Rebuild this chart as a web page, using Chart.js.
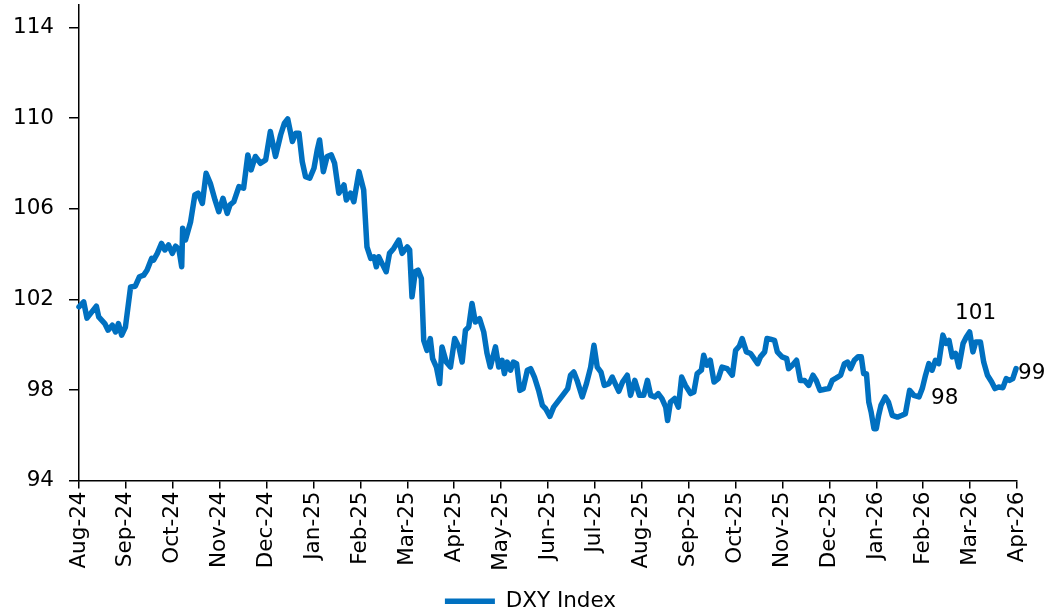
<!DOCTYPE html>
<html>
<head>
<meta charset="utf-8">
<script src="https://cdn.jsdelivr.net/npm/chart.js@4"></script>
<style>
  html, body { margin: 0; padding: 0; background: #fff; }
  canvas { display: block; }
</style>
</head>
<body>
<canvas id="dxyChart" width="1045" height="616"></canvas>
<script>
// DXY Index, Aug-24 to Apr-26

const monthLabels = ['Aug-24', 'Sep-24', 'Oct-24', 'Nov-24', 'Dec-24', 'Jan-25', 'Feb-25', 'Mar-25', 'Apr-25', 'May-25',
    'Jun-25', 'Jul-25', 'Aug-25', 'Sep-25', 'Oct-25', 'Nov-25', 'Dec-25', 'Jan-26', 'Feb-26', 'Mar-26', 'Apr-26'];

const yTicks = [94, 98, 102, 106, 110, 114];

// position in months since Aug-24
const dxyPos = [
    0.00, 0.10, 0.17, 0.37, 0.42, 0.55, 0.62, 0.71, 0.78, 0.84, 0.91, 0.99, 1.10, 1.20, 1.29, 1.38, 1.45, 1.55, 1.59, 1.67,
    1.76, 1.83, 1.91, 1.99, 2.06, 2.13, 2.19, 2.21, 2.27, 2.38, 2.47, 2.54, 2.63, 2.71, 2.80, 2.90,
    2.98, 3.07, 3.16, 3.22, 3.30, 3.41, 3.51, 3.60, 3.67, 3.76, 3.87, 3.98, 4.08, 4.19, 4.30, 4.38, 4.45, 4.55, 4.62, 4.69,
    4.76, 4.83, 4.92, 5.01, 5.08, 5.13, 5.21, 5.29, 5.38, 5.45, 5.54, 5.65, 5.70, 5.79,
    5.86, 5.97, 6.07, 6.14, 6.22, 6.29, 6.34, 6.39, 6.46, 6.55, 6.62, 6.71, 6.82, 6.89, 7.00, 7.05, 7.10, 7.17, 7.23, 7.30,
    7.35, 7.42, 7.49, 7.54, 7.62, 7.69, 7.74, 7.83, 7.92, 8.01, 8.10, 8.17, 8.24, 8.31, 8.38, 8.45, 8.54, 8.63,
    8.70, 8.77, 8.88, 8.95, 9.02, 9.07, 9.13, 9.20, 9.26, 9.33, 9.40, 9.47, 9.56, 9.63, 9.71, 9.80, 9.88, 9.95, 10.04, 10.12,
    10.23, 10.34, 10.42, 10.48, 10.55, 10.62, 10.73, 10.82, 10.91, 10.98, 11.05, 11.13, 11.20, 11.30, 11.37, 11.44, 11.51,
    11.59, 11.69, 11.76, 11.85, 11.95, 12.04, 12.12, 12.19, 12.28, 12.35, 12.43, 12.51, 12.55, 12.61, 12.70, 12.78, 12.85, 12.93,
    13.04, 13.11, 13.18, 13.27, 13.32, 13.39, 13.46, 13.54, 13.63, 13.71, 13.82, 13.93, 14.00, 14.08, 14.14, 14.23, 14.32,
    14.47, 14.53, 14.62, 14.67, 14.74, 14.83, 14.89, 14.99, 15.09, 15.13, 15.21, 15.30, 15.38, 15.47, 15.56, 15.65, 15.72, 15.80,
    15.90, 15.99, 16.06, 16.15, 16.24, 16.32, 16.39, 16.45, 16.53, 16.61, 16.68, 16.73, 16.79, 16.84, 16.89, 16.95, 17.00, 17.05,
    17.10, 17.19, 17.26,
    17.34, 17.45, 17.55, 17.62, 17.71, 17.80, 17.91, 17.98, 18.05, 18.12, 18.19, 18.26, 18.33, 18.42, 18.49, 18.55, 18.62, 18.69,
    18.76, 18.85, 18.92, 18.99, 19.06, 19.12, 19.22, 19.29, 19.37, 19.46, 19.53, 19.61, 19.70, 19.77, 19.84, 19.91, 19.98
];

const dxyValue = [
    101.67, 101.89, 101.17, 101.70, 101.23, 100.93, 100.64, 100.86, 100.56, 100.93, 100.42, 100.78, 102.55, 102.58, 103.00, 103.07, 103.29, 103.81, 103.73, 104.03,
    104.47, 104.18, 104.40, 104.03, 104.35, 104.21, 103.44, 105.14, 104.62, 105.43, 106.61, 106.69, 106.24, 107.57, 107.13, 106.39,
    105.87, 106.46, 105.80, 106.17, 106.31, 106.98, 106.91, 108.38, 107.72, 108.31, 108.01, 108.16, 109.41, 108.31, 109.27, 109.78, 109.97, 108.97, 109.34, 109.34,
    108.08, 107.42, 107.35, 107.79, 108.60, 109.04, 107.64, 108.31, 108.38, 108.01, 106.69, 107.05, 106.39, 106.69,
    106.31, 107.64, 106.83, 104.32, 103.81, 103.88, 103.44, 103.88, 103.59, 103.22, 104.03, 104.25, 104.62, 104.03, 104.32, 104.18, 102.11, 103.22, 103.29, 102.92,
    100.19, 99.75, 100.27, 99.38, 99.01, 98.28, 99.90, 99.23, 99.01, 100.27, 99.90, 99.23, 100.64, 100.78, 101.82, 101.00, 101.15, 100.56,
    99.61, 99.01, 99.90, 99.01, 99.31, 98.72, 99.23, 98.87, 99.23, 99.16, 97.98, 98.06, 98.87, 98.94, 98.57, 97.98, 97.32, 97.17, 96.83, 97.24,
    97.54, 97.84, 98.06, 98.65, 98.79, 98.42, 97.69, 98.28, 99.01, 99.97, 99.01, 98.79, 98.20, 98.28, 98.57, 98.25, 97.94,
    98.35, 98.65, 97.76, 98.42, 97.76, 97.76, 98.42, 97.76, 97.69, 97.84, 97.62, 97.24, 96.65, 97.46, 97.62, 97.24, 98.57, 98.20,
    97.84, 97.91, 98.72, 98.87, 99.53, 99.09, 99.31, 98.35, 98.50, 99.01, 98.94, 98.65, 99.75, 99.93, 100.27, 99.68, 99.61,
    99.16, 99.46, 99.68, 100.27, 100.24, 100.19, 99.68, 99.46, 99.38, 98.94, 99.09, 99.31, 98.42, 98.42, 98.20, 98.65, 98.42, 97.98,
    98.03, 98.06, 98.42, 98.53, 98.65, 99.16, 99.23, 98.94, 99.31, 99.46, 99.46, 98.72, 98.72, 97.46, 97.02, 96.29, 96.29, 96.88,
    97.32, 97.69, 97.46,
    96.88, 96.80, 96.88, 96.95, 97.98, 97.76, 97.69, 98.06, 98.65, 99.16, 98.87, 99.31, 99.16, 100.42, 100.05, 100.19, 99.46, 99.61,
    99.01, 100.05, 100.34, 100.56, 99.68, 100.12, 100.12, 99.23, 98.65, 98.35, 98.06, 98.13, 98.10, 98.50, 98.42, 98.50, 98.94
];

// points that carry a value label
const labelledPos = [17.91, 18.99, 19.98];

const LINE_BLUE = '#0070C0';
const FONT = "'DejaVu Sans', sans-serif";
const FONT_SIZE = 21.5;

Chart.defaults.font.family = FONT;
Chart.defaults.font.size = FONT_SIZE;
Chart.defaults.color = '#000';

// ─── Value labels next to chosen points ─────────────────────────────────────
const labelOffsets = [
    { dx: 12, dy: 1, align: 'left' },
    { dx: 6, dy: -19, align: 'center' },
    { dx: 2, dy: 5, align: 'left' }
];

const pointLabels = {
    id: 'pointLabels',
    afterDatasetsDraw(chart) {
        const meta = chart.getDatasetMeta(0);
        const ctx = chart.ctx;
        ctx.save();
        ctx.font = FONT_SIZE + 'px ' + FONT;
        ctx.fillStyle = '#000';
        ctx.textBaseline = 'middle';
        labelledPos.forEach((p, k) => {
            const i = dxyPos.indexOf(p);
            const pt = meta.data[i];
            if(!pt) return;
            ctx.textAlign = labelOffsets[k].align;
            ctx.fillText(String(Math.round(dxyValue[i])), pt.x + labelOffsets[k].dx, pt.y + labelOffsets[k].dy);
        });
        ctx.restore();
    }
};

// nudge the legend a little right of the canvas centre, as in the source
const legendShift = {
    id: 'legendShift',
    afterLayout(chart) {
        if(chart.legend) {
            chart.legend.left += 22;
            chart.legend.right += 22;
        }
    }
};

new Chart(document.getElementById('dxyChart').getContext('2d'), {
    type: 'line',
    data: {
        datasets: [{
            label: 'DXY Index',
            data: dxyPos.map((p, i) => ({ x: p, y: dxyValue[i] })),
            borderColor: LINE_BLUE,
            backgroundColor: LINE_BLUE,
            borderWidth: 5.5,
            borderCapStyle: 'round',
            borderJoinStyle: 'round',
            pointRadius: 0,
            tension: 0,
            clip: false
        }]
    },
    options: {
        responsive: false,
        animation: false,
        events: [],
        layout: { padding: { top: 5, right: 28, bottom: -6, left: 0 } },
        plugins: {
            legend: {
                display: true,
                position: 'bottom',
                labels: {
                    usePointStyle: true,
                    pointStyle: 'line',
                    pointStyleWidth: 50,
                    padding: 0,
                    color: '#000',
                    font: { size: FONT_SIZE }
                }
            },
            tooltip: { enabled: false }
        },
        scales: {
            x: {
                type: 'linear',
                min: 0,
                max: monthLabels.length - 1,
                afterBuildTicks: s => { s.ticks = monthLabels.map((_, i) => ({ value: i })); },
                afterFit: s => { s.height = 110; s.paddingLeft = 0; s.paddingRight = 0; },
                border: { display: true, color: '#000', width: 1.5 },
                grid: { display: true, drawOnChartArea: false, drawTicks: true, tickLength: 8, color: '#000', lineWidth: 1.5 },
                ticks: {
                    autoSkip: false,
                    minRotation: 90,
                    maxRotation: 90,
                    padding: 3,
                    color: '#000',
                    font: { size: FONT_SIZE },
                    callback: (v, i) => monthLabels[i]
                }
            },
            y: {
                min: 94,
                max: 115,
                afterBuildTicks: s => { s.ticks = yTicks.map(v => ({ value: v })); },
                afterFit: s => { s.width = 79; s.paddingTop = 0; s.paddingBottom = 0; },
                border: { display: true, color: '#000', width: 1.5 },
                grid: { display: true, drawOnChartArea: false, drawTicks: true, tickLength: 10, color: '#000', lineWidth: 1.5 },
                ticks: {
                    padding: 15,
                    color: '#000',
                    font: { size: FONT_SIZE },
                    callback: v => v
                }
            }
        }
    },
    plugins: [pointLabels, legendShift]
});
</script>
</body>
</html>
